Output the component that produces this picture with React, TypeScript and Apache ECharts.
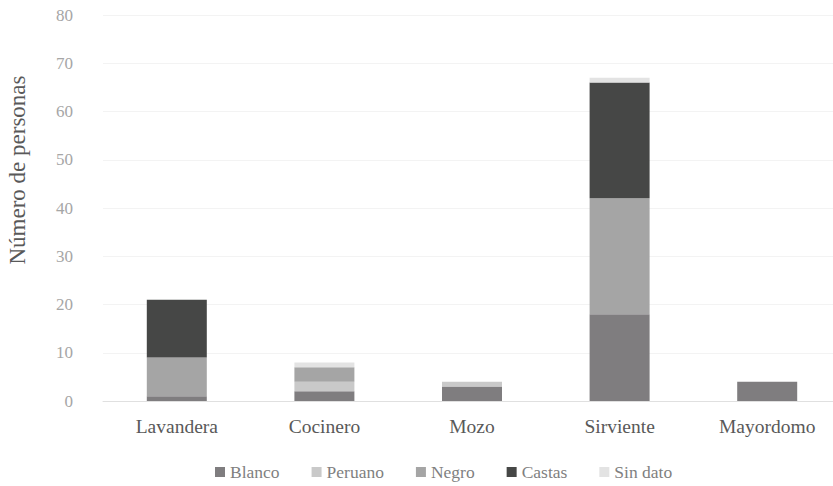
import React, { useEffect, useRef } from "react";
import * as echarts from "echarts";

const categories = ["Lavandera", "Cocinero", "Mozo", "Sirviente", "Mayordomo"];
const seriesNames = ["Blanco", "Peruano", "Negro", "Castas", "Sin dato"];
const blanco = [1, 2, 3, 18, 4];
const peruano = [0, 2, 1, 0, 0];
const negro = [8, 3, 0, 24, 0];
const castas = [12, 0, 0, 24, 0];
const sinDato = [0, 1, 0, 1, 0];
const colors = ["#7f7d7f", "#c9c9c9", "#a5a5a5", "#464746", "#e3e3e3"];
const yTicks = [0, 10, 20, 30, 40, 50, 60, 70, 80];
const yTitle = "Número de personas";

const FONT = "'Liberation Serif', 'DejaVu Serif', serif";

export default function App() {
  const ref = useRef<HTMLDivElement>(null);
  useEffect(() => {
    if (!ref.current) return;
    const chart = echarts.init(ref.current, undefined, { renderer: "svg" });
    const data = [blanco, peruano, negro, castas, sinDato];
    chart.setOption({
      animation: false,
      textStyle: { fontFamily: FONT },
      grid: { left: 103, top: 15, width: 738, height: 386, outerBoundsMode: "none", containLabel: false },
      legend: {
        top: 458,
        left: 210,
        itemWidth: 10,
        itemHeight: 10,
        itemGap: 32,
        icon: "rect",
        textStyle: { color: "#7f7f7f", fontSize: 17.5, fontFamily: FONT },
        data: seriesNames,
      },
      graphic: [
        {
          type: "text",
          x: 17,
          y: 170,
          rotation: Math.PI / 2,
          style: {
            text: yTitle,
            fill: "#595959",
            fontSize: 23,
            fontFamily: FONT,
            textAlign: "center",
            textVerticalAlign: "middle",
          },
        },
      ],
      xAxis: {
        type: "category",
        data: categories,
        axisLine: { lineStyle: { color: "#e0e0e0" } },
        axisTick: { show: false },
        axisLabel: { color: "#595959", fontSize: 19.5, fontFamily: FONT, margin: 15 },
      },
      yAxis: {
        type: "value",
        min: yTicks[0],
        max: yTicks[yTicks.length - 1],
        interval: 10,
        axisLine: { show: false },
        axisTick: { show: false },
        splitLine: { lineStyle: { color: "#f3f3f3" } },
        axisLabel: { color: "#a6a6a6", fontSize: 17, fontFamily: FONT, margin: 30 },
      },
      series: seriesNames.map((name, i) => ({
        name,
        type: "bar",
        stack: "total",
        barWidth: 60,
        itemStyle: { color: colors[i] },
        data: data[i],
      })),
    });
    return () => chart.dispose();
  }, []);
  return <div ref={ref} style={{ width: 833, height: 486, position: "absolute", left: 0, top: 0 }} />;
}
